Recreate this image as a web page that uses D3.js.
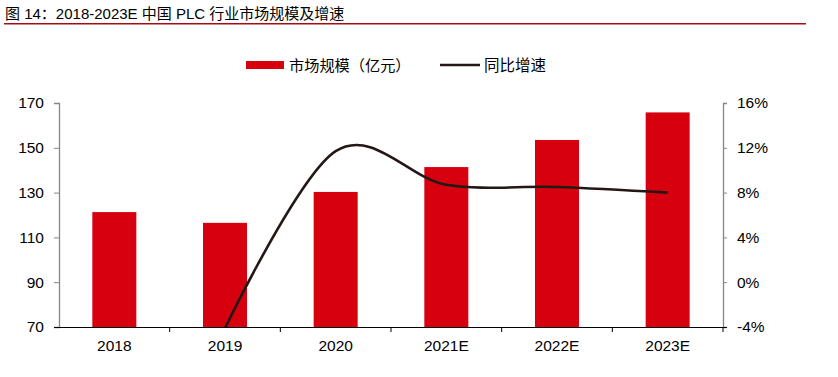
<!DOCTYPE html>
<html><head><meta charset="utf-8">
<script src="https://cdn.jsdelivr.net/npm/d3@7"></script>
<style>body{margin:0;background:#fff}svg{display:block;font-family:"Liberation Sans",Arial,"Noto Sans CJK SC",sans-serif}</style>
</head><body>
<script>
const categories = ["2018","2019","2020","2021E","2022E","2023E"];
const marketSize = [121.3,116.5,130.3,141.4,153.5,165.8];
const growth = [null,-4.1,11.7,8.7,8.5,8.0];
const leftTicks = [70,90,110,130,150,170];
const rightTicks = [-4,0,4,8,12,16];
const titleText = "图 14：2018-2023E 中国 PLC 行业市场规模及增速";
const legendBar = "市场规模（亿元）";
const legendLine = "同比增速";

const W=838,H=377;
const svg=d3.select("body").append("svg").attr("width",W).attr("height",H);
const L=59,R=723,T=103,B=327;
const xb=d3.scaleBand().domain(categories).range([L,R]);
const yL=d3.scaleLinear().domain([70,170]).range([B,T]);
const yR=d3.scaleLinear().domain([-4,16]).range([B,T]);
const FS=15.5;

// title
svg.append("text").attr("x",5).attr("y",19).attr("font-size",15).attr("fill","#000")
  .attr("font-family","'Liberation Sans',Arial,'Noto Sans CJK SC',sans-serif").text(titleText);
svg.append("line").attr("x1",4).attr("x2",806).attr("y1",23.8).attr("y2",23.8).attr("stroke","#a50d14").attr("stroke-width",1.5);

// bars
svg.selectAll("rect.bar").data(categories).enter().append("rect")
  .attr("x",d=>xb(d)+xb.bandwidth()/2-22).attr("width",44)
  .attr("y",(d,i)=>yL(marketSize[i])).attr("height",(d,i)=>B-yL(marketSize[i]))
  .attr("fill","#d7000f");

// line
const pts=categories.map((d,i)=>({d,v:growth[i]})).filter(p=>p.v!==null);
svg.append("clipPath").attr("id","c").append("rect").attr("x",L).attr("y",T-20).attr("width",R-L).attr("height",B-T+20);
svg.append("path").datum(pts).attr("clip-path","url(#c)")
  .attr("d",d3.line().x(p=>xb(p.d)+xb.bandwidth()/2).y(p=>yR(p.v)).curve(d3.curveCatmullRom.alpha(0)))
  .attr("fill","none").attr("stroke","#231815").attr("stroke-width",2.6);

// axes
const gl=svg.append("g").attr("transform",`translate(${L},0)`)
  .call(d3.axisLeft(yL).tickValues(leftTicks).tickSize(5).tickPadding(10));
const gr=svg.append("g").attr("transform",`translate(${R},0)`)
  .call(d3.axisRight(yR).tickValues(rightTicks).tickSize(4).tickPadding(10).tickFormat(d=>d+"%"));
const gx=svg.append("g").attr("transform",`translate(0,${B})`)
  .call(d3.axisBottom(xb).tickSize(0).tickPadding(13));
[gl,gr].forEach(g=>{g.select(".domain").attr("stroke","#868686").attr("stroke-width",1.3);
  g.selectAll(".tick line").attr("stroke","#868686");});
gx.select(".domain").remove();
svg.append("line").attr("x1",L-5).attr("x2",R+4).attr("y1",B+0.5).attr("y2",B+0.5).attr("stroke","#000").attr("stroke-width",1.2);
svg.selectAll("line.ct").data(categories).enter().append("line")
  .attr("x1",(d,i)=>L+xb.step()*(i+1)).attr("x2",(d,i)=>L+xb.step()*(i+1))
  .attr("y1",B).attr("y2",B+5).attr("stroke","#000").attr("stroke-width",1);
svg.selectAll(".tick text").attr("font-size",FS).attr("fill","#000").attr("font-family","'Liberation Sans',Arial,sans-serif");

// legend
svg.append("rect").attr("x",246).attr("y",61).attr("width",38).attr("height",8).attr("fill","#d7000f");
svg.append("text").attr("x",289).attr("y",71).attr("font-size",15.2).attr("font-family","'Noto Sans CJK SC',sans-serif").text(legendBar);
svg.append("line").attr("x1",440).attr("x2",480).attr("y1",65).attr("y2",65).attr("stroke","#231815").attr("stroke-width",2.6);
svg.append("text").attr("x",484).attr("y",71).attr("font-size",15.5).attr("font-family","'Noto Sans CJK SC',sans-serif").text(legendLine);
</script>
</body></html>
